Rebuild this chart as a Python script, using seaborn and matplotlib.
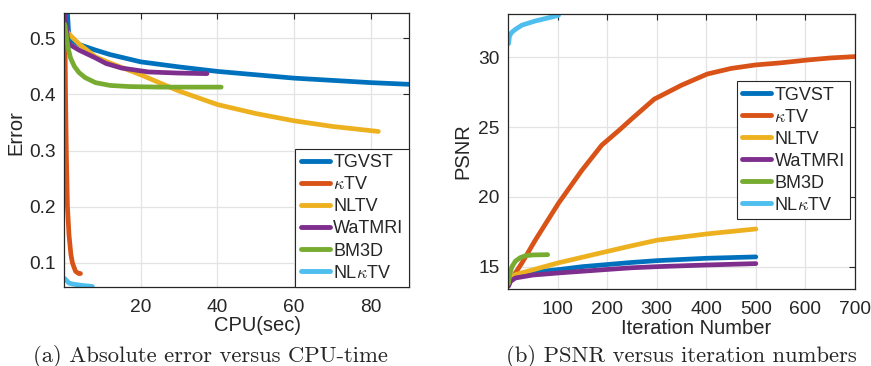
import numpy as np
import pandas as pd
import seaborn as sns
import matplotlib.pyplot as plt
from matplotlib.lines import Line2D

methods = ['TGVST', r'$\kappa$TV', 'NLTV', 'WaTMRI', 'BM3D', r'NL$\kappa$TV']
colors = ['#0072BD', '#D95319', '#EDB120', '#7E2F8E', '#77AC30', '#4DBEEE']

# (a) error vs cpu time
tgvst_cpu = [0.9, 1.2, 1.7, 3.9, 8.2, 12, 20, 30, 40, 50, 60, 70, 80, 90]
tgvst_err = [0.545, 0.51, 0.497, 0.489, 0.479, 0.471, 0.458, 0.449, 0.441, 0.435, 0.429, 0.425, 0.421, 0.418]
ktv_cpu = [0.2, 0.4, 0.6, 0.9, 1.3, 1.8, 2.2, 3.0, 3.8, 4.3]
ktv_err = [0.545, 0.40, 0.30, 0.20, 0.15, 0.115, 0.10, 0.085, 0.081, 0.081]
nltv_cpu = [0.5, 1.7, 3.9, 8.2, 12, 20, 30, 40, 50, 60, 70, 82]
nltv_err = [0.514, 0.505, 0.490, 0.467, 0.456, 0.435, 0.406, 0.382, 0.366, 0.353, 0.343, 0.334]
watmri_cpu = [0.2, 0.6, 1.0, 1.7, 3.9, 8.2, 11, 15, 22, 30, 37.3]
watmri_err = [0.545, 0.52, 0.493, 0.488, 0.479, 0.465, 0.455, 0.447, 0.440, 0.438, 0.437]
bm3d_cpu = [0.2, 0.6, 1.0, 1.7, 2.7, 3.9, 5.5, 8.2, 12, 17, 25, 41]
bm3d_err = [0.525, 0.505, 0.485, 0.465, 0.450, 0.439, 0.430, 0.421, 0.416, 0.414, 0.413, 0.413]
nlktv_cpu = [0.2, 1.3, 2.5, 4.5, 7.4]
nlktv_err = [0.072, 0.064, 0.062, 0.060, 0.058]

# (b) psnr vs iterations
tgvst_it = [1, 15, 50, 102, 150, 249, 300, 400, 500]
tgvst_psnr = [13.9, 14.31, 14.6, 14.79, 15.0, 15.3, 15.43, 15.6, 15.7]
ktv_it = [1, 15, 28, 55, 102, 149, 189, 225, 250, 295, 350, 402, 450, 499, 550, 603, 650, 700]
ktv_psnr = [13.7, 14.55, 15.26, 16.9, 19.55, 21.9, 23.7, 24.8, 25.6, 27.0, 28.0, 28.8, 29.2, 29.45, 29.6, 29.8, 29.95, 30.05]
nltv_it = [1, 15, 100, 201, 250, 301, 402, 500]
nltv_psnr = [14.1, 14.43, 15.26, 16.1, 16.5, 16.9, 17.35, 17.7]
watmri_it = [1, 5, 15, 50, 102, 200, 249, 300, 400, 500]
watmri_psnr = [13.6, 13.95, 14.19, 14.4, 14.55, 14.8, 14.92, 15.0, 15.12, 15.22]
bm3d_it = [1, 3, 8, 15, 25, 35, 50, 80]
bm3d_psnr = [13.8, 14.4, 15.0, 15.4, 15.65, 15.78, 15.84, 15.86]
nlktv_it = [1.3, 2.7, 5, 8, 15, 28, 55, 102]
nlktv_psnr = [30.98, 31.45, 31.65, 31.8, 32.0, 32.3, 32.6, 33.0]


def long_df(xs, ys):
    frames = []
    for name, x, y in zip(methods, xs, ys):
        frames.append(pd.DataFrame({'x': x, 'y': y, 'method': name}))
    return pd.concat(frames, ignore_index=True)


df_a = long_df([tgvst_cpu, ktv_cpu, nltv_cpu, watmri_cpu, bm3d_cpu, nlktv_cpu],
               [tgvst_err, ktv_err, nltv_err, watmri_err, bm3d_err, nlktv_err])
df_b = long_df([tgvst_it, ktv_it, nltv_it, watmri_it, bm3d_it, nlktv_it],
               [tgvst_psnr, ktv_psnr, nltv_psnr, watmri_psnr, bm3d_psnr, nlktv_psnr])

sns.set_theme(style='whitegrid', rc={'grid.color': '#e3e3e3', 'axes.edgecolor': '#262626'})
plt.rcParams['font.family'] = ['Liberation Sans', 'DejaVu Sans']
plt.rcParams['mathtext.fontset'] = 'cm'

fig = plt.figure(figsize=(8.71, 3.66), dpi=100)
ax1 = fig.add_axes([64 / 871, 79 / 366, 345 / 871, 274 / 366])
ax2 = fig.add_axes([508 / 871, 77 / 366, 347 / 871, 275 / 366])
pal = dict(zip(methods, colors))

for ax, df in [(ax1, df_a), (ax2, df_b)]:
    sns.lineplot(data=df, x='x', y='y', hue='method', palette=pal, estimator=None,
                 sort=False, lw=3.4, legend=False, ax=ax)
    ax.tick_params(direction='in', top=True, right=True, length=4, width=0.8,
                   labelsize=13.8, colors='#262626', pad=6)
    ax.tick_params(axis='x', pad=9)
    for s in ax.spines.values():
        s.set_linewidth(0.9)
        s.set_color('#262626')
    ax.grid(True, lw=0.9)

ax1.set_xlim(0, 90)
ax1.set_ylim(0.057, 0.545)
ax1.set_xticks([20, 40, 60, 80])
ax1.set_yticks([0.1, 0.2, 0.3, 0.4, 0.5])
ax1.set_xlabel('CPU(sec)', fontsize=14.5, color='#262626')
ax1.set_ylabel('Error', fontsize=14.5, color='#262626')
ax1.xaxis.set_label_coords(0.562, -0.105)
ax1.yaxis.set_label_coords(-0.113, 0.562)

ax2.set_xlim(0, 700)
ax2.set_ylim(13.4, 33.1)
ax2.set_xticks([100, 200, 300, 400, 500, 600, 700])
ax2.set_yticks([15, 20, 25, 30])
ax2.set_xlabel('Iteration Number', fontsize=14.5, color='#262626')
ax2.set_ylabel('PSNR', fontsize=14.5, color='#262626')
ax2.xaxis.set_label_coords(0.543, -0.11)
ax2.yaxis.set_label_coords(-0.103, 0.5)

handles = [Line2D([0], [0], color=c, lw=3.5) for c in colors]
leg_kw = dict(fontsize=13, frameon=True, fancybox=False, framealpha=1, edgecolor='#262626',
              handlelength=1.6, handletextpad=0.2, labelspacing=0.28, borderpad=0.3,
              borderaxespad=0)
l1 = ax1.legend(handles, methods, loc='lower right', **leg_kw)
l2 = ax2.legend(handles, methods, loc='upper right', bbox_to_anchor=(0.986, 0.756), **leg_kw)
for l in (l1, l2):
    l.get_frame().set_linewidth(0.8)

fig.text(210 / 871, 1 - 356 / 366, '(a) Absolute error versus CPU-time', ha='center', va='center',
         family='cmr10', fontsize=16.3)
fig.text(681 / 871, 1 - 356 / 366, '(b) PSNR versus iteration numbers', ha='center', va='center',
         family='cmr10', fontsize=16.3)

fig.savefig('out.png', dpi=100)
